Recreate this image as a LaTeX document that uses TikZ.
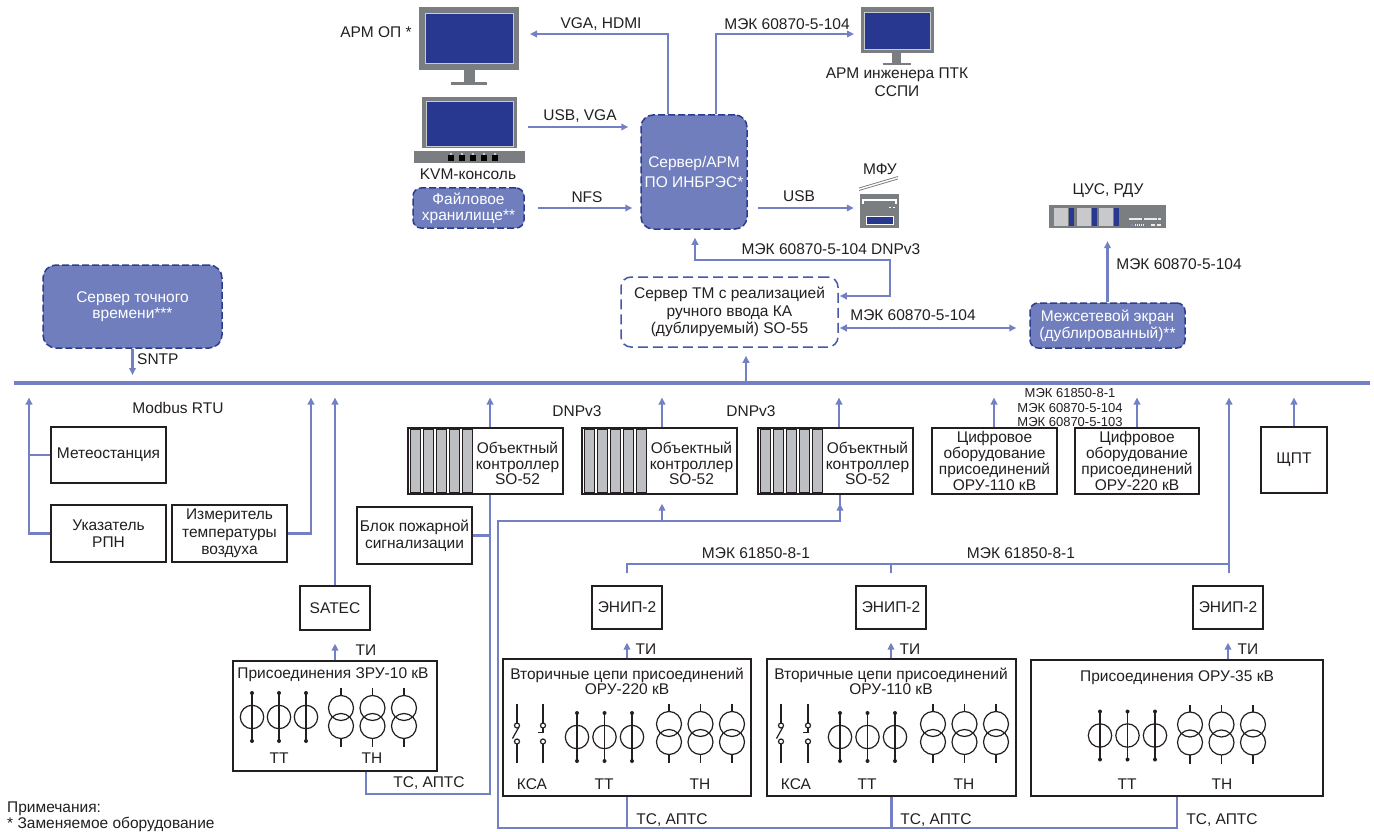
\documentclass[tikz,border=0pt]{standalone}
\usepackage{fontspec}
\setmainfont{Liberation Sans}
\usetikzlibrary{arrows.meta,calc}
\definecolor{ln}{RGB}{115,128,196}
\definecolor{bfill}{RGB}{112,126,190}
\definecolor{bdark}{RGB}{45,60,140}
\definecolor{tmb}{RGB}{70,88,170}
\definecolor{scr}{RGB}{40,56,145}
\definecolor{frm}{RGB}{122,126,129}
\definecolor{slotc}{RGB}{190,191,194}
\definecolor{lgray}{RGB}{200,201,203}
\definecolor{txt}{RGB}{35,31,32}
\newcommand\fmain{\fontsize{15.5}{17}\selectfont}
\newcommand\fsmall{\fontsize{13}{14.5}\selectfont}
\newcommand\fsz[1]{\fontsize{15.5}{#1}\selectfont}
\tikzset{
  conn/.style={draw=ln, line width=2.6pt},
  arr/.style={conn, -{Triangle[length=7pt,width=6.5pt]}},
  darr/.style={conn, {Triangle[length=7pt,width=6.5pt]}-{Triangle[length=7pt,width=6.5pt]}},
  box/.style={draw=txt, line width=1.3pt, fill=white, align=center, inner sep=0pt, font=\fmain, text=txt},
  bluebox/.style={draw=bdark, line width=1.5pt, dash pattern=on 7pt off 3pt, fill=bfill, rounded corners=10pt, align=center, inner sep=0pt, font=\fmain, text=white},
  lbl/.style={font=\fmain, text=txt, inner sep=0pt, text height=11pt, text depth=3pt},
  slbl/.style={font=\fsmall, text=txt, inner sep=0pt},
  mlbl/.style={text=txt, inner sep=0pt, align=center},
  symline/.style={draw=txt, line width=1.2pt},
  ctsym/.pic={
    \draw[symline] (0,0) circle[radius=11.7];
    \draw[symline] (0,-24) -- (0,24);
    \fill[txt] (0,-24) circle[radius=2];
    \fill[txt] (0,24) circle[radius=2];
  },
  vtsym/.pic={
    \draw[symline] (0,-9) circle[radius=12.5];
    \draw[symline] (0,9) circle[radius=12.5];
    \draw[symline] (0,-21.5) -- (0,-29);
    \draw[symline] (0,21.5) -- (0,30);
  },
  ksaA/.pic={
    \draw[symline] (0,-29.5) -- (0,-10.5);
    \draw[symline] (0,-8) circle[radius=2.5];
    \draw[symline] (1.8,-6.3) -- (-4.5,5);
    \draw[symline] (0,8) circle[radius=2.5];
    \draw[symline] (0,10.5) -- (0,29.5);
  },
  ksaB/.pic={
    \draw[symline] (0,-29.5) -- (0,-10.5);
    \draw[symline] (0,-8) circle[radius=2.5];
    \draw[symline] (0,-5.5) -- (0,-1) -- (-5.5,-1);
    \draw[symline] (0,8) circle[radius=2.5];
    \draw[symline] (0,10.5) -- (0,29.5);
  }
}
\newcommand\ctrlunit[2]{%
  \node[box, minimum width=155pt, minimum height=66pt] (#1) at (#2,461) {};
  \foreach \i in {0,...,4} {\filldraw[fill=slotc, draw=txt, line width=0.8pt] ({#2-75.5+13*\i},429) rectangle ++(10,63);}
  \node[mlbl, font=\fsz{15.5}] (#1t) at ({#2+32},463.5) {Объектный\\контроллер\\SO-52};
}
\begin{document}
\begin{tikzpicture}[x=1pt,y=-1pt]
\useasboundingbox (0,0) rectangle (1374,832);
\fill[white] (0,0) rectangle (1374,832);

% ---------- coordinates ----------
\coordinate (vgaend) at (530,34);
\coordinate (mon2in) at (854,34);
\coordinate (tmk) at (890,260);
\coordinate (bt) at (0,397.5);
\coordinate (busL) at (14,383);
\coordinate (busR) at (1370,383);
\coordinate (m1) at (0,564);
\coordinate (bl) at (0,828);
\coordinate (ml) at (0,521);
\coordinate (tsz) at (0,794);

% ---------- monitor АРМ ОП ----------
\node[fill=frm, minimum width=100pt, minimum height=63pt, inner sep=0pt] (mon1) at (469,38.5) {};
\fill[scr] (425,13) rectangle (513,63);
\draw[white!60!frm, line width=0.6pt] (425,13) rectangle (513,63);
\fill[frm] (464,70) rectangle (475,82);
\fill[frm] (451,82) rectangle (487,85.5);
\node[lbl] (larm1) at (376,34) {АРМ ОП *};

% ---------- monitor АРМ инженера ----------
\node[fill=frm, minimum width=73pt, minimum height=46pt, inner sep=0pt] (mon2) at (897.5,30) {};
\fill[scr] (864.5,12) rectangle (930.5,49);
\draw[white!60!frm, line width=0.6pt] (864.5,12) rectangle (930.5,49);
\fill[frm] (892,53) rectangle (901,63);
\fill[frm] (883,63) rectangle (911,65.5);
\node[mlbl, font=\fsz{18}] (larm2) at (897,82) {АРМ инженера ПТК\\ССПИ};

% ---------- KVM ----------
\node[fill=frm, minimum width=95pt, minimum height=51pt, inner sep=0pt] (kvm) at (469.5,122.5) {};
\fill[scr] (426,101) rectangle (513,146);
\draw[white!60!frm, line width=0.6pt] (426,101) rectangle (513,146);
\fill[frm] (414,151) rectangle (525,163);
\foreach \i in {0,...,4} {\fill[black] ({448+11*\i},155) rectangle ++(5.5,6);
  \fill[lgray] ({450+11*\i},153.3) rectangle ++(1.6,1.6);}
\node[lbl] (lkvm) at (468,175) {KVM-консоль};

% ---------- file storage ----------
\node[bluebox, minimum width=111pt, minimum height=40pt, rounded corners=8pt, font=\fsz{16}] (nas) at (468.5,208) {Файловое\\хранилище**};

% ---------- server ----------
\node[bluebox, minimum width=106pt, minimum height=114pt, rounded corners=12pt, font=\fsz{20}] (srv) at (694,172) {Сервер/АРМ\\ПО ИНБРЭС*};

% ---------- MFU ----------
\node[fill=frm, minimum width=39pt, minimum height=34pt, inner sep=0pt] (mfu) at (879.5,211) {};
\draw[white, line width=1.2pt] (863,203.5) -- (863,200) -- (896,200) -- (896,203.5);
\fill[white] (888.5,206.5) rectangle ++(2.6,1.3);
\fill[white] (892.5,206.5) rectangle ++(2.6,1.3);
\filldraw[fill=scr, draw=white, line width=0.8pt] (866,216.5) rectangle (893,224.5);
\draw[frm, line width=0.8pt] (859,190.5) -- (898,179);
\draw[frm, line width=0.8pt] (859,188) -- (898,176.5);
\node[lbl] (lmfu) at (880,171) {МФУ};

% ---------- ЦУС ----------
\node[fill=frm, minimum width=117pt, minimum height=23pt, inner sep=0pt] (cus) at (1107.5,216.5) {};
\fill[lgray] (1054,208) rectangle (1068,226); \fill[scr] (1069,208) rectangle (1074,226);
\fill[lgray] (1077,208) rectangle (1091,226); \fill[scr] (1092,208) rectangle (1097,226);
\fill[lgray] (1099,208) rectangle (1113,226); \fill[scr] (1114,208) rectangle (1119,226);
\fill[white!85!frm] (1129,218.3) rectangle (1142,219.7);
\fill[white!85!frm] (1143.5,218.3) rectangle (1157,219.7);
\fill[white!85!frm] (1158,218.3) rectangle (1161,219.7);
\fill[scr!60!white] (1132,225) circle[radius=1.6];
\foreach \i in {0,...,4} {\fill[white!85!frm] ({1135+2*\i},224.3) rectangle ++(1,1.3);}
\fill[white!85!frm] (1151,224.3) rectangle (1155,225.7);
\fill[white!85!frm] (1156.5,224.3) rectangle (1160.5,225.7);
\node[lbl] (lcus) at (1108,190) {ЦУС, РДУ};

% ---------- top connectors ----------
\draw[arr] (668,0 |- srv.north) |- (vgaend);
\node[lbl] (lvga) at (601,25) {VGA, HDMI};
\draw[arr] (716,0 |- srv.north) |- (mon2in);
\node[lbl] (lmek1) at (787,26) {МЭК 60870-5-104};
\draw[arr, shorten <=11pt, shorten >=12pt] (kvm.east |- 0,127) -- (srv.west |- 0,127);
\node[lbl] (lusbvga) at (580,117) {USB, VGA};
\draw[arr, shorten <=13pt, shorten >=8pt] (nas.east) -- (srv.west |- nas.east);
\node[lbl] (lnfs) at (587,198) {NFS};
\draw[arr, shorten <=10pt, shorten >=6pt] (srv.east |- 0,208) -- (mfu.west |- 0,208);
\node[lbl] (lusb) at (799,197) {USB};

% ---------- ТМ, межсетевой ----------
\node[box, draw=tmb, line width=1.5pt, dash pattern=on 10pt off 5pt, rounded corners=10pt, minimum width=217pt, minimum height=70pt, font=\fsz{17.5}] (tm) at (729.5,312) {Сервер ТМ с реализацией\\ручного ввода КА\\(дублируемый) SO-55};
\node[bluebox, minimum width=155pt, minimum height=45pt, rounded corners=8pt, font=\fsz{17}] (fw) at (1107.5,325.5) {Межсетевой экран\\(дублированный)**};
\draw[darr, shorten <=1pt, shorten >=8pt] (tm.east |- 0,296) -| (tmk) -| (695,0 |- srv.south);
\node[lbl] (ldnp) at (831,250) {МЭК 60870-5-104 DNPv3};
\draw[darr, shorten <=1pt, shorten >=13pt] (tm.east |- 0,328) -- (fw.west |- 0,328);
\node[lbl] (lmek3) at (913,316) {МЭК 60870-5-104};
\draw[arr, shorten >=13pt] (fw.north) -- (cus.south);
\node[lbl] (lmek2) at (1179,265) {МЭК 60870-5-104};

% ---------- time server ----------
\node[bluebox, minimum width=179pt, minimum height=83pt, rounded corners=13pt, font=\fsz{16}] (ntp) at (132.5,306.5) {Сервер точного\\времени***};
\draw[arr, shorten >=8pt] (ntp.south) -- (ntp.south |- busL);
\node[lbl, anchor=west] (lsntp) at (137,360) {SNTP};

% ---------- bus ----------
\draw[draw=ln, line width=4pt] (busL) -- (busR);
\draw[arr, shorten >=8pt] (746,0 |- busL) -- (746,0 |- tm.south);

% ---------- left devices ----------
\node[box, minimum width=115pt, minimum height=56pt] (meteo) at (108.5,455) {Метеостанция};
\node[box, minimum width=115pt, minimum height=57pt] (rpn) at (108.5,533.5) {Указатель\\РПН};
\node[box, minimum width=115pt, minimum height=57pt, font=\fsz{17.5}] (temp) at (229.5,533.5) {Измеритель\\температуры\\воздуха};
\draw[conn] (meteo.west) -- (29,0 |- meteo.west);
\draw[arr] (rpn.west) -| (29,0 |- bt);
\draw[arr] (temp.east) -| (311,0 |- bt);
\node[lbl] (lmod) at (178,409) {Modbus RTU};

\node[box, minimum width=70pt, minimum height=44pt] (satec) at (335,608) {SATEC};
\draw[arr] (satec.north) -- (satec.north |- bt);

\node[box, minimum width=115pt, minimum height=57pt] (fire) at (414.5,535.5) {Блок пожарной\\сигнализации};

% ---------- controllers ----------
\ctrlunit{ctrl1}{485.5}
\ctrlunit{ctrl2}{659.5}
\ctrlunit{ctrl3}{835.5}
\draw[arr] (490,0 |- ctrl1.north) -- (490,0 |- bt);
\draw[arr] (662,0 |- ctrl2.north) -- (662,0 |- bt);
\draw[arr] (839,0 |- ctrl3.north) -- (839,0 |- bt);
\node[lbl] (ldnp1) at (577,412) {DNPv3};
\node[lbl] (ldnp2) at (751,412) {DNPv3};
\draw[conn] (fire.east) -- (490,0 |- fire.east);

% ---------- digital equipment ----------
\node[box, minimum width=125pt, minimum height=66pt, font=\fsz{15.7}] (dig110) at (994.5,461) {Цифровое\\оборудование\\присоединений\\ОРУ-110 кВ};
\node[box, minimum width=124pt, minimum height=66pt, font=\fsz{15.7}] (dig220) at (1137,461) {Цифровое\\оборудование\\присоединений\\ОРУ-220 кВ};
\draw[arr] (994,0 |- dig110.north) -- (994,0 |- bt);
\draw[arr] (1137,0 |- dig220.north) -- (1137,0 |- bt);
\node[slbl] (ls1) at (1070,393) {МЭК 61850-8-1};
\node[slbl] (ls2) at (1070,408) {МЭК 60870-5-104};
\node[slbl] (ls3) at (1070,422.5) {МЭК 60870-5-103};

\node[box, minimum width=66pt, minimum height=66pt] (shpt) at (1294,460) {ЩПТ};
\draw[arr] (shpt.north) -- (shpt.north |- bt);

% ---------- ENIP ----------
\node[box, minimum width=70pt, minimum height=43pt] (enip1) at (627,607.5) {ЭНИП-2};
\node[box, minimum width=70pt, minimum height=43pt] (enip2) at (891,607.5) {ЭНИП-2};
\node[box, minimum width=70pt, minimum height=43pt] (enip3) at (1228,607.5) {ЭНИП-2};
\draw[arr] ($(enip1.north)+(0,-12)$) |- (1229,0 |- m1) -- (1229,0 |- bt);
\draw[conn] ($(enip2.north)+(0,-12)$) -- (enip2.north |- m1);
\draw[conn] ($(enip3.north)+(1,-12)$) -- (1229,0 |- m1);
\node[lbl] (l61a) at (756,554) {МЭК 61850-8-1};
\node[lbl] (l61b) at (1021,554) {МЭК 61850-8-1};

% ---------- ЗРУ-10 ----------
\node[box, minimum width=204pt, minimum height=110pt] (zru) at (335,716) {};
\node[lbl] (zrut) at (333,674) {Присоединения ЗРУ-10 кВ};
\pic at (252,717) {ctsym}; \pic at (279,717) {ctsym}; \pic at (306,717) {ctsym};
\pic at (341,717) {vtsym}; \pic at (372.5,717) {vtsym}; \pic at (404,717) {vtsym};
\node[lbl] (zrutt) at (279,759) {ТТ};
\node[lbl] (zrutn) at (372,759) {ТН};
\draw[arr, shorten >=13pt] (zru.north) -- (satec.south);
\node[lbl] (lti0) at (366,651) {ТИ};
\draw[conn] (366,0 |- zru.south) |- (490,0 |- tsz) -- (490,0 |- ctrl1.south);
\node[lbl] (lts0) at (429,783) {ТС, АПТС};

% ---------- ОРУ-220 ----------
\node[box, minimum width=248pt, minimum height=137pt] (oru220) at (627,727.5) {};
\node[mlbl, font=\fsz{13.5}] (o220t) at (627,681.5) {Вторичные цепи присоединений\\ОРУ-220 кВ};
\pic at (517,733.5) {ksaA}; \pic at (543,733.5) {ksaB};
\pic at (577,737) {ctsym}; \pic at (604.5,737) {ctsym}; \pic at (632,737) {ctsym};
\pic at (669,733) {vtsym}; \pic at (700.5,733) {vtsym}; \pic at (732,733) {vtsym};
\node[lbl] (o220k) at (532,785) {КСА};
\node[lbl] (o220tt) at (604,785) {ТТ};
\node[lbl] (o220tn) at (700,785) {ТН};
\draw[arr, shorten >=13pt] (enip1.south |- oru220.north) -- (enip1.south);
\node[lbl] (lti1) at (646,650) {ТИ};

% ---------- ОРУ-110 ----------
\node[box, minimum width=249pt, minimum height=137pt] (oru110) at (891.5,727.5) {};
\node[mlbl, font=\fsz{13.5}] (o110t) at (891,681.5) {Вторичные цепи присоединений\\ОРУ-110 кВ};
\pic at (781,733.5) {ksaA}; \pic at (808,733.5) {ksaB};
\pic at (840,737) {ctsym}; \pic at (867.5,737) {ctsym}; \pic at (895,737) {ctsym};
\pic at (933,733) {vtsym}; \pic at (964.5,733) {vtsym}; \pic at (996,733) {vtsym};
\node[lbl] (o110k) at (796,785) {КСА};
\node[lbl] (o110tt) at (867,785) {ТТ};
\node[lbl] (o110tn) at (964,785) {ТН};
\draw[arr, shorten >=13pt] (enip2.south |- oru110.north) -- (enip2.south);
\node[lbl] (lti2) at (910,650) {ТИ};

% ---------- ОРУ-35 ----------
\node[box, minimum width=292pt, minimum height=136pt] (oru35) at (1177,728) {};
\node[lbl] (o35t) at (1177,677) {Присоединения ОРУ-35 кВ};
\pic at (1100,735.5) {ctsym}; \pic at (1127.5,735.5) {ctsym}; \pic at (1155,735.5) {ctsym};
\pic at (1190,733.5) {vtsym}; \pic at (1221.5,733.5) {vtsym}; \pic at (1253,733.5) {vtsym};
\node[lbl] (o35tt) at (1127,785) {ТТ};
\node[lbl] (o35tn) at (1222,785) {ТН};
\draw[arr, shorten >=13pt] (enip3.south |- oru35.north) -- (enip3.south);
\node[lbl] (lti3) at (1248,650) {ТИ};

% ---------- bottom ТС, АПТС bus ----------
\draw[conn] (oru35.south) |- (498,0 |- bl) -- (498,0 |- ml) -| (840,0 |- ctrl3.south);
\draw[arr, shorten >=9pt] (840,0 |- ml) -- (840,0 |- ctrl3.south);
\draw[arr, shorten >=9pt] (662,0 |- ml) -- (662,0 |- ctrl2.south);
\draw[conn] (oru220.south) -- (oru220.south |- bl);
\draw[conn] (oru110.south) -- (oru110.south |- bl);
\node[lbl] (lts1) at (672,820) {ТС, АПТС};
\node[lbl] (lts2) at (936,820) {ТС, АПТС};
\node[lbl] (lts3) at (1222,820) {ТС, АПТС};

% ---------- notes ----------
\node[lbl, anchor=west] (note1) at (7,808) {Примечания:};
\node[lbl, anchor=west] (note2) at (7,824) {* Заменяемое оборудование};
\end{tikzpicture}
\end{document}
